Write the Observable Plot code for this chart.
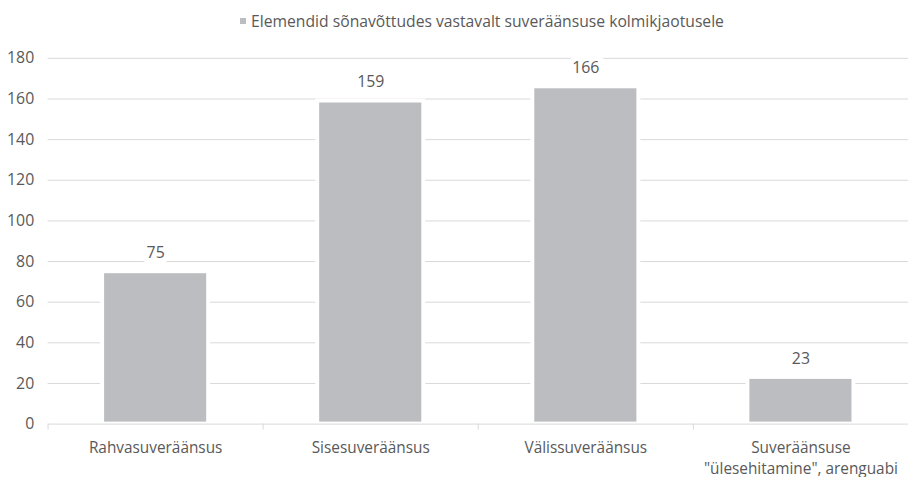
<!DOCTYPE html>
<html>
<head>
<meta charset="utf-8">
<script src="https://cdn.jsdelivr.net/npm/d3@7"></script>
<script src="https://cdn.jsdelivr.net/npm/@observablehq/plot@0.6"></script>
<style>
  html, body { margin: 0; padding: 0; background: white; overflow: hidden; width: 908px; height: 477px; }
  #legend { margin-left: 48px; width: 868px; height: 42px; text-align: center; font-family: "Open Sans", sans-serif; font-size: 15.7px; color: #595959; line-height: 42px; white-space: nowrap; }
  #legend .sw { display: inline-block; width: 6px; height: 6px; background: #bcbdc1; margin-right: 5px; vertical-align: middle; position: relative; top: -2px; }
  #chart svg { display: block; }
</style>
</head>
<body>
<div id="legend"><span class="sw"></span>Elemendid sõnavõttudes vastavalt suveräänsuse kolmikjaotusele</div>
<div id="chart"></div>
<script>
const categories = ["Rahvasuveräänsus", "Sisesuveräänsus", "Välissuveräänsus", "Suveräänsuse\n\"ülesehitamine\", arenguabi"];
const values = [75, 159, 166, 23];
const yTicks = [0, 20, 40, 60, 80, 100, 120, 140, 160, 180];

const data = categories.map((c, i) => ({category: c, value: values[i]}));

const W = 916, ML = 48, MR = 0;
const step = (W - ML - MR) / categories.length;
const textColor = "#595959";
const gridColor = "#d9d9d9";

const chart = Plot.plot({
  width: W,
  height: 435,
  marginLeft: ML,
  marginRight: MR,
  marginTop: 16,
  marginBottom: 50,
  style: {fontFamily: "'Open Sans', sans-serif", fontSize: "15.5px", color: textColor, background: "white", overflow: "visible"},
  x: {domain: categories, paddingInner: 0.507, paddingOuter: 0.2535, axis: null},
  y: {domain: [0, 180], axis: null},
  marks: [
    Plot.ruleY(yTicks.filter(d => d > 0), {stroke: gridColor, strokeWidth: 1}),
    Plot.axisY({ticks: yTicks, tickSize: 0, tickPadding: 14, fill: textColor, fontSize: 16, label: null}),
    Plot.barY(data, {x: "category", y: "value", fill: "#bcbdc1", stroke: "white", strokeWidth: 4}),
    Plot.ruleY([0], {stroke: gridColor, strokeWidth: 1}),
    Plot.ruleX(categories, {x: d => d, y1: 0, y2: 0, insetBottom: -6, dx: -step / 2, stroke: gridColor}),
    Plot.text(data, {x: "category", y: "value", text: d => String(d.value), dy: -19, fill: textColor, stroke: "white", strokeWidth: 12, fontSize: 16}),
    Plot.axisX({tickSize: 0, tickPadding: 15, fill: textColor, fontSize: 15.5, label: null, lineHeight: 1.32})
  ]
});
document.getElementById("chart").appendChild(chart);
</script>
</body>
</html>
